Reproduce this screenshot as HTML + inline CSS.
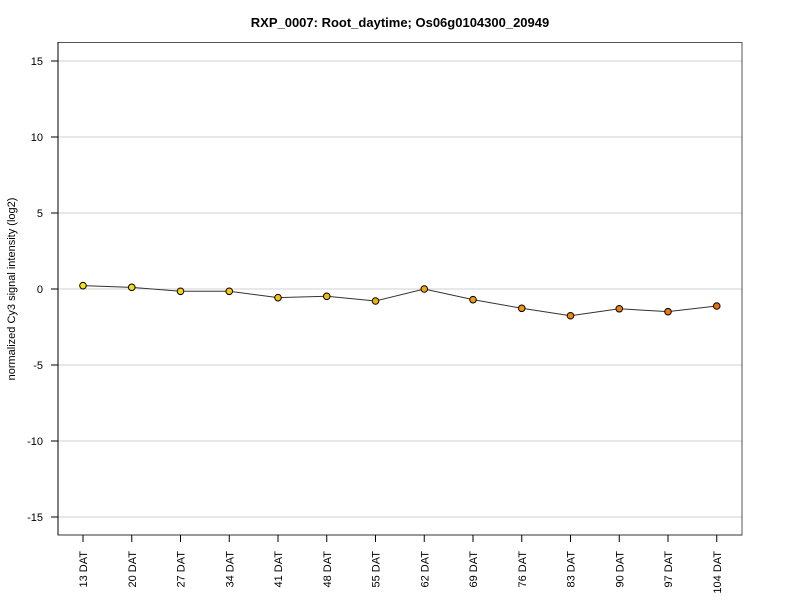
<!DOCTYPE html>
<html><head><meta charset="utf-8"><style>
html,body{margin:0;padding:0;background:#fff;}
svg{display:block;font-family:"Liberation Sans",Arial,sans-serif;}
</style></head><body>
<svg width="800" height="600" viewBox="0 0 800 600" xmlns="http://www.w3.org/2000/svg">
<rect width="800" height="600" fill="#fff"/>
<text x="400" y="27" text-anchor="middle" font-size="13" font-weight="bold" fill="#000">RXP_0007: Root_daytime; Os06g0104300_20949</text>
<!-- gridlines -->
<g stroke="#d0d0d0" stroke-width="1">
<line x1="58" x2="742" y1="61" y2="61"/>
<line x1="58" x2="742" y1="137" y2="137"/>
<line x1="58" x2="742" y1="213" y2="213"/>
<line x1="58" x2="742" y1="289" y2="289"/>
<line x1="58" x2="742" y1="365" y2="365"/>
<line x1="58" x2="742" y1="441" y2="441"/>
<line x1="58" x2="742" y1="517" y2="517"/>
</g>
<!-- box -->
<rect x="58" y="42.5" width="684" height="492.5" fill="none" stroke="#555" stroke-width="1"/>
<line x1="58" y1="42" x2="58" y2="535" stroke="#000" stroke-width="1"/>
<line x1="58" y1="535" x2="742" y2="535" stroke="#333" stroke-width="1"/>
<!-- y ticks -->
<g stroke="#000" stroke-width="1">
<line x1="51" x2="58" y1="61" y2="61"/>
<line x1="51" x2="58" y1="137" y2="137"/>
<line x1="51" x2="58" y1="213" y2="213"/>
<line x1="51" x2="58" y1="289" y2="289"/>
<line x1="51" x2="58" y1="365" y2="365"/>
<line x1="51" x2="58" y1="441" y2="441"/>
<line x1="51" x2="58" y1="517" y2="517"/>
</g>
<g font-size="11" text-anchor="end" fill="#000">
<text x="43" y="65">15</text>
<text x="43" y="141">10</text>
<text x="43" y="217">5</text>
<text x="43" y="293">0</text>
<text x="43" y="369">-5</text>
<text x="43" y="445">-10</text>
<text x="43" y="521">-15</text>
</g>
<text transform="translate(15,289) rotate(-90)" text-anchor="middle" font-size="11" fill="#000">normalized Cy3 signal intensity (log2)</text>
<!-- x ticks -->
<g stroke="#000" stroke-width="1">
<line x1="83" x2="83" y1="535" y2="542"/>
<line x1="131.75" x2="131.75" y1="535" y2="542"/>
<line x1="180.5" x2="180.5" y1="535" y2="542"/>
<line x1="229.25" x2="229.25" y1="535" y2="542"/>
<line x1="278" x2="278" y1="535" y2="542"/>
<line x1="326.75" x2="326.75" y1="535" y2="542"/>
<line x1="375.5" x2="375.5" y1="535" y2="542"/>
<line x1="424.25" x2="424.25" y1="535" y2="542"/>
<line x1="473" x2="473" y1="535" y2="542"/>
<line x1="521.75" x2="521.75" y1="535" y2="542"/>
<line x1="570.5" x2="570.5" y1="535" y2="542"/>
<line x1="619.25" x2="619.25" y1="535" y2="542"/>
<line x1="668" x2="668" y1="535" y2="542"/>
<line x1="716.75" x2="716.75" y1="535" y2="542"/>
</g>
<g font-size="11" text-anchor="end" fill="#000">
<text transform="translate(87,551) rotate(-90)">13 DAT</text>
<text transform="translate(135.75,551) rotate(-90)">20 DAT</text>
<text transform="translate(184.5,551) rotate(-90)">27 DAT</text>
<text transform="translate(233.25,551) rotate(-90)">34 DAT</text>
<text transform="translate(282,551) rotate(-90)">41 DAT</text>
<text transform="translate(330.75,551) rotate(-90)">48 DAT</text>
<text transform="translate(379.5,551) rotate(-90)">55 DAT</text>
<text transform="translate(428.25,551) rotate(-90)">62 DAT</text>
<text transform="translate(477,551) rotate(-90)">69 DAT</text>
<text transform="translate(525.75,551) rotate(-90)">76 DAT</text>
<text transform="translate(574.5,551) rotate(-90)">83 DAT</text>
<text transform="translate(623.25,551) rotate(-90)">90 DAT</text>
<text transform="translate(672,551) rotate(-90)">97 DAT</text>
<text transform="translate(720.75,551) rotate(-90)">104 DAT</text>
</g>
<!-- series -->
<polyline fill="none" stroke="#333" stroke-width="1" points="83,285.66 131.75,287.33 180.5,291.28 229.25,291.28 278,297.66 326.75,296.3 375.5,301 424.25,289 473,299.64 521.75,308.3 570.5,315.75 619.25,308.76 668,311.65 716.75,306"/>
<g stroke="#000" stroke-width="1">
<circle cx="83" cy="285.66" r="3.3" fill="#FAE600"/>
<circle cx="131.75" cy="287.33" r="3.3" fill="#F9DD00"/>
<circle cx="180.5" cy="291.28" r="3.3" fill="#F8D300"/>
<circle cx="229.25" cy="291.28" r="3.3" fill="#F7CA00"/>
<circle cx="278" cy="297.66" r="3.3" fill="#F7C100"/>
<circle cx="326.75" cy="296.3" r="3.3" fill="#F6B800"/>
<circle cx="375.5" cy="301" r="3.3" fill="#F5AF00"/>
<circle cx="424.25" cy="289" r="3.3" fill="#F5A500"/>
<circle cx="473" cy="299.64" r="3.3" fill="#F49C00"/>
<circle cx="521.75" cy="308.3" r="3.3" fill="#F39300"/>
<circle cx="570.5" cy="315.75" r="3.3" fill="#F28A00"/>
<circle cx="619.25" cy="308.76" r="3.3" fill="#F28000"/>
<circle cx="668" cy="311.65" r="3.3" fill="#F17700"/>
<circle cx="716.75" cy="306" r="3.3" fill="#F06E00"/>
</g>
</svg>
</body></html>
